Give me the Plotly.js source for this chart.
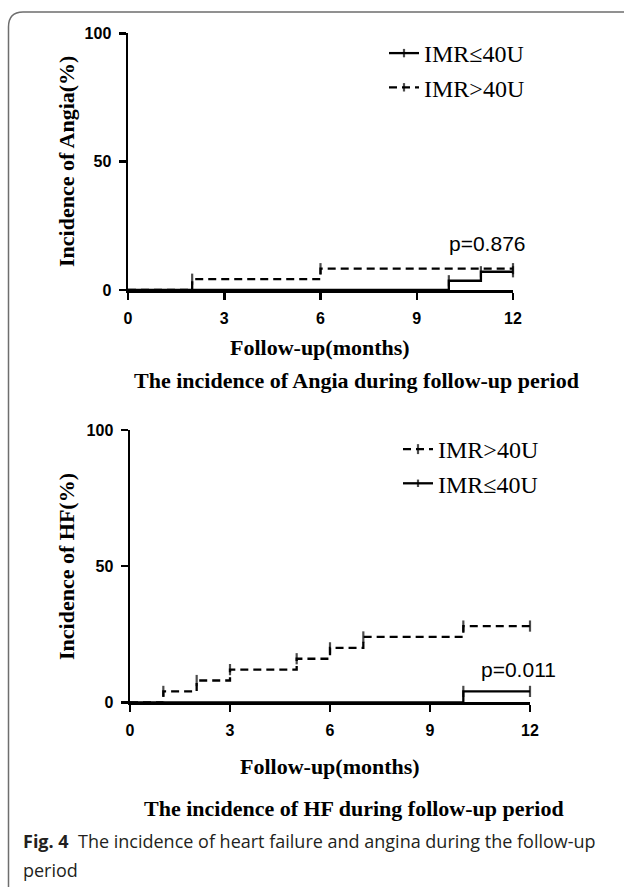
<!DOCTYPE html>
<html>
<head>
<meta charset="utf-8">
<script src="https://cdn.plot.ly/plotly-3.0.1.min.js"></script>
<style>
  html, body { margin: 0; padding: 0; background: #ffffff; }
  #chart { width: 624px; height: 887px; }
</style>
</head>
<body>
<div id="chart"></div>
<script>
// ---------- data ----------
// Angina (top panel)
const angHighTime = [0, 2, 6, 12];
const angHighInc = [0, 4.2, 8.3, 8.3];
const angHighCensor = [false, true, true, true];

const angLowTime = [0, 10, 11, 12];
const angLowInc = [0, 3.6, 7.1, 7.1];
const angLowCensor = [false, true, true, true];

// Heart failure (bottom panel)
const hfHighTime = [0, 1, 2, 3, 5, 6, 7, 10, 12];
const hfHighInc = [0, 4, 8, 12, 16, 20, 24, 28, 28];
const hfHighCensor = [false, true, true, true, true, true, true, true, true];

const hfLowTime = [0, 10, 12];
const hfLowInc = [0, 4, 4];
const hfLowCensor = [false, true, true];

const labelLow = 'IMR≤40U';
const labelHigh = 'IMR>40U';
const xTicks = [0, 3, 6, 9, 12];
const yTicks = [0, 50, 100];
const pAngina = 'p=0.876';
const pHF = 'p=0.011';

// ---------- helpers ----------
const W = 624, H = 887;
const px = v => v / W;
const py = v => 1 - v / H;
const SERIF = 'Liberation Serif, Times New Roman, serif';
const SANS = 'Liberation Sans, Arial, sans-serif';

function kmTrace(t, y, censor, dashed, name, xa, ya, legend) {
  return {
    x: t, y: y,
    type: 'scatter',
    mode: 'lines+markers',
    name: name,
    legend: legend,
    xaxis: xa, yaxis: ya,
    line: { shape: 'hv', color: '#000', width: 2.3, dash: dashed ? '8px,5px' : 'solid' },
    marker: {
      symbol: 'line-ns',
      size: censor.map(c => c ? 8 : 0),
      color: '#000',
      line: { color: '#000', width: 2.2 }
    },
    cliponaxis: false,
    hoverinfo: 'skip'
  };
}

const data = [
  kmTrace(angLowTime, angLowInc, angLowCensor, false, labelLow, 'x', 'y', 'legend'),
  kmTrace(angHighTime, angHighInc, angHighCensor, true, labelHigh, 'x', 'y', 'legend'),
  kmTrace(hfHighTime, hfHighInc, hfHighCensor, true, labelHigh, 'x2', 'y2', 'legend2'),
  kmTrace(hfLowTime, hfLowInc, hfLowCensor, false, labelLow, 'x2', 'y2', 'legend2')
];

function xAxis(domain, anchor) {
  return {
    domain: domain, anchor: anchor, range: [0, 12],
    tickvals: xTicks, ticktext: xTicks.map(String),
    showline: true, linecolor: '#000', linewidth: 2.5,
    ticks: 'outside', ticklen: 7, tickwidth: 2.5, tickcolor: '#000',
    showgrid: false, zeroline: false, fixedrange: true,
    tickfont: { family: SANS, size: 16, color: '#000', weight: 'bold' },
    ticklabelstandoff: 5
  };
}
function yAxis(domain, anchor) {
  return {
    domain: domain, anchor: anchor, range: [0, 100],
    tickvals: yTicks, ticktext: yTicks.map(String),
    showline: true, linecolor: '#000', linewidth: 2.5,
    ticks: 'outside', ticklen: 7, tickwidth: 2.5, tickcolor: '#000',
    showgrid: false, zeroline: false, fixedrange: true,
    tickfont: { family: SANS, size: 16, color: '#000', weight: 'bold' },
    ticklabelstandoff: 4
  };
}

function txt(text, x, y, opts) {
  return Object.assign({
    text: text, xref: 'paper', yref: 'paper', x: px(x), y: py(y),
    xanchor: 'center', yanchor: 'middle', showarrow: false,
    font: { family: SERIF, size: 22, color: '#000', weight: 'bold' }
  }, opts || {});
}

const capFont = { family: 'Open Sans, Noto Sans, sans-serif', size: 18, color: '#231f20' };

const annotations = [
  txt('Incidence of Angia(%)', 66, 162, { textangle: -90 }),
  txt('Follow-up(months)', 320, 348),
  txt('The incidence of Angia during follow-up period', 356, 380),
  txt(pAngina, 487, 243, { font: { family: SANS, size: 21, color: '#000' } }),
  txt('Incidence of HF(%)', 66, 567, { textangle: -90 }),
  txt('Follow-up(months)', 330, 766),
  txt('The incidence of HF during follow-up period', 354, 808),
  txt(pHF, 518, 669, { font: { family: SANS, size: 21, color: '#000' } }),
  txt('<b>Fig. 4</b>\u00a0\u00a0The incidence of heart failure and angina during the follow-up', 21, 841,
      { xanchor: 'left', font: capFont }),
  txt('period', 21, 870, { xanchor: 'left', font: capFont })
];

const frame = {
  type: 'path', xref: 'paper', yref: 'paper',
  path: 'M ' + px(640) + ',' + py(12) + ' L ' + px(23) + ',' + py(12) +
        ' Q ' + px(8.5) + ',' + py(12) + ' ' + px(8.5) + ',' + py(27) +
        ' L ' + px(8.5) + ',' + py(890),
  line: { color: '#6e6e6e', width: 1.5 }
};

const legendFont = { family: SERIF, size: 24, color: '#000' };

const layout = {
  width: W, height: H,
  margin: { l: 0, r: 0, t: 0, b: 0 },
  paper_bgcolor: '#fff', plot_bgcolor: '#fff',
  showlegend: true,
  xaxis: xAxis([px(128), px(513)], 'y'),
  yaxis: yAxis([py(290), py(33.3)], 'x'),
  xaxis2: xAxis([px(130), px(530)], 'y2'),
  yaxis2: yAxis([py(702.3), py(430)], 'x2'),
  legend: {
    x: px(384), y: py(31), xanchor: 'left', yanchor: 'top',
    bgcolor: 'rgba(0,0,0,0)', font: legendFont, traceorder: 'normal',
    itemwidth: 30
  },
  legend2: {
    x: px(398), y: py(427), xanchor: 'left', yanchor: 'top',
    bgcolor: 'rgba(0,0,0,0)', font: legendFont, traceorder: 'normal',
    itemwidth: 30
  },
  annotations: annotations,
  shapes: [frame]
};

Plotly.newPlot('chart', data, layout, { displayModeBar: false, staticPlot: true });
</script>
</body>
</html>
